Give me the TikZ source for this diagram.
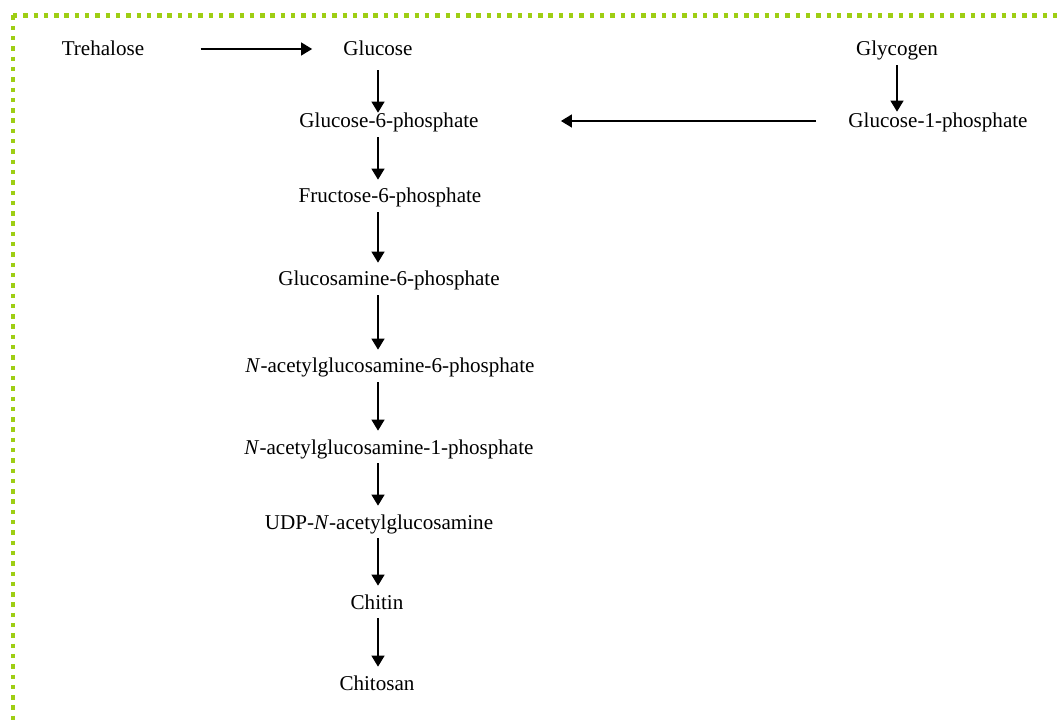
\documentclass[tikz,border=0pt]{standalone}
\usepackage{fontspec}
\setmainfont{Liberation Serif}
\usetikzlibrary{arrows.meta}
\definecolor{framegreen}{RGB}{158,206,20}

\begin{document}
\begin{tikzpicture}[x=0.02cm,y=-0.02cm,
  >={Triangle[width=0.26cm,length=0.22cm]},
  main node/.style={anchor=base,inner xsep=0.06cm,inner ysep=0.1cm,
    text height=0.36cm,text depth=0.08cm,font=\fontsize{12}{14}\selectfont},
  path arrow/.style={->,line width=0.026cm},
  frame/.style={framegreen,line width=0.088cm,dash pattern=on 0.088cm off 0.118cm}]

  \useasboundingbox (0,0) rectangle (1057,722);

  % dotted frame, cut by the page on the right and at the bottom
  \draw[frame] (13,15.5) -- (1070,15.5);
  \draw[frame] (13,15.5) -- (13,724) -- (1070,724);

  \node[main node] (treh) at (103,56) {Trehalose};
  \node[main node] (glc) at (378,56) {Glucose};
  \node[main node] (gly) at (897,56) {Glycogen};
  \node[main node] (g1p) at (938,128) {Glucose-1-phosphate};
  \node[main node] (g6p) at (389,128) {Glucose-6-phosphate};
  \node[main node] (f6p) at (390,203) {Fructose-6-phosphate};
  \node[main node] (gln6p) at (389,286) {Glucosamine-6-phosphate};
  \node[main node] (nag6p) at (390,373) {\textit{N}-acetylglucosamine-6-phosphate};
  \node[main node] (nag1p) at (389,454) {\textit{N}-acetylglucosamine-1-phosphate};
  \node[main node] (udp) at (379,529) {UDP-\textit{N}-acetylglucosamine};
  \node[main node] (chit) at (377,609) {Chitin};
  \node[main node] (chitos) at (377,690) {Chitosan};

  \coordinate (axis) at (378,0);

  \draw[path arrow,shorten <=1.06cm,shorten >=0.56cm] (treh) -- (glc);
  \draw[path arrow,shorten <=0.58cm,shorten >=1.58cm] (g1p) -- (g6p);
  \draw[path arrow,shorten >=-0.14cm] (gly) -- (g1p.north -| gly);
  \draw[path arrow,shorten <=0.1cm,shorten >=-0.16cm] (glc) -- (g6p.north -| axis);
  \draw[path arrow] (g6p.south -| axis) -- (f6p.north -| axis);
  \draw[path arrow] (f6p.south -| axis) -- (gln6p.north -| axis);
  \draw[path arrow] (gln6p.south -| axis) -- (nag6p.north -| axis);
  \draw[path arrow] (nag6p.south -| axis) -- (nag1p.north -| axis);
  \draw[path arrow] (nag1p.south -| axis) -- (udp.north -| axis);
  \draw[path arrow] (udp.south -| axis) -- (chit.north -| axis);
  \draw[path arrow] (chit.south -| axis) -- (chitos.north -| axis);
\end{tikzpicture}
\end{document}
